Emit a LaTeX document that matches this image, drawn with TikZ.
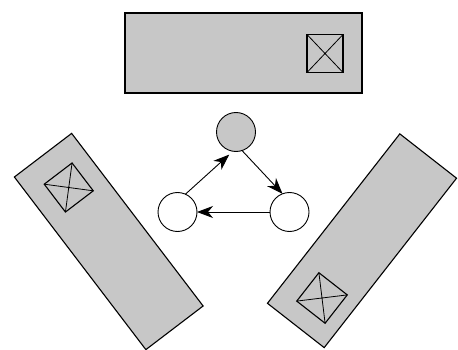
\documentclass[tikz,border=0pt]{standalone}
\usetikzlibrary{arrows.meta}
\definecolor{panelgray}{gray}{0.78}
\tikzset{
  panel/.style={draw=black, line width=1.1pt, fill=panelgray, inner sep=0pt, outer sep=0pt, minimum height=72pt},
  marker/.style={draw=black, line width=1.1pt, inner sep=0pt, outer sep=0pt, minimum size=36pt},
  diag/.style={line width=0.8pt},
  station/.style={circle, draw=black, line width=0.9pt, fill=white, minimum size=39pt, inner sep=0pt, outer sep=0pt},
  link/.style={line width=0.9pt, -{Stealth[length=16pt,width=12pt,inset=5pt]}}
}
\begin{document}
\begin{tikzpicture}[x=1pt,y=-1pt]
\useasboundingbox (0,0) rectangle (458,350);

% upper panel with its marker
\node[panel, minimum width=237pt, minimum height=80pt] (toppanel) at (243.5,53) {};
\node[marker, minimum width=36pt, minimum height=38pt] (topmark) at (325,53.5) {};
\draw[diag] (topmark.north west) -- (topmark.south east)
            (topmark.north east) -- (topmark.south west);

% left tilted panel
\node[panel, minimum width=217pt, rotate=-52.7] (leftpanel) at (108.75,241.5) {};
\node[marker, minimum size=35pt, rotate=-52.7] (leftmark) at (68.75,187.5) {};
\draw[diag] (leftmark.north west) -- (leftmark.south east)
            (leftmark.north east) -- (leftmark.south west);

% right tilted panel
\node[panel, minimum width=215pt, rotate=52] (rightpanel) at (362,240.75) {};
\node[marker, minimum size=36pt, rotate=52] (rightmark) at (322,298) {};
\draw[diag] (rightmark.north west) -- (rightmark.south east)
            (rightmark.north east) -- (rightmark.south west);

% the three stations of the cycle
\node[station, fill=panelgray] (tc) at (236,132) {};
\node[station] (lc) at (177.5,212) {};
\node[station] (rc) at (289.5,212) {};

\draw[link, shorten >=5pt] (lc.66) -- (tc.261);
\draw[link] (tc.-72) -- (rc.111);
\draw[link] (rc.west) -- (lc.east);
\end{tikzpicture}
\end{document}
